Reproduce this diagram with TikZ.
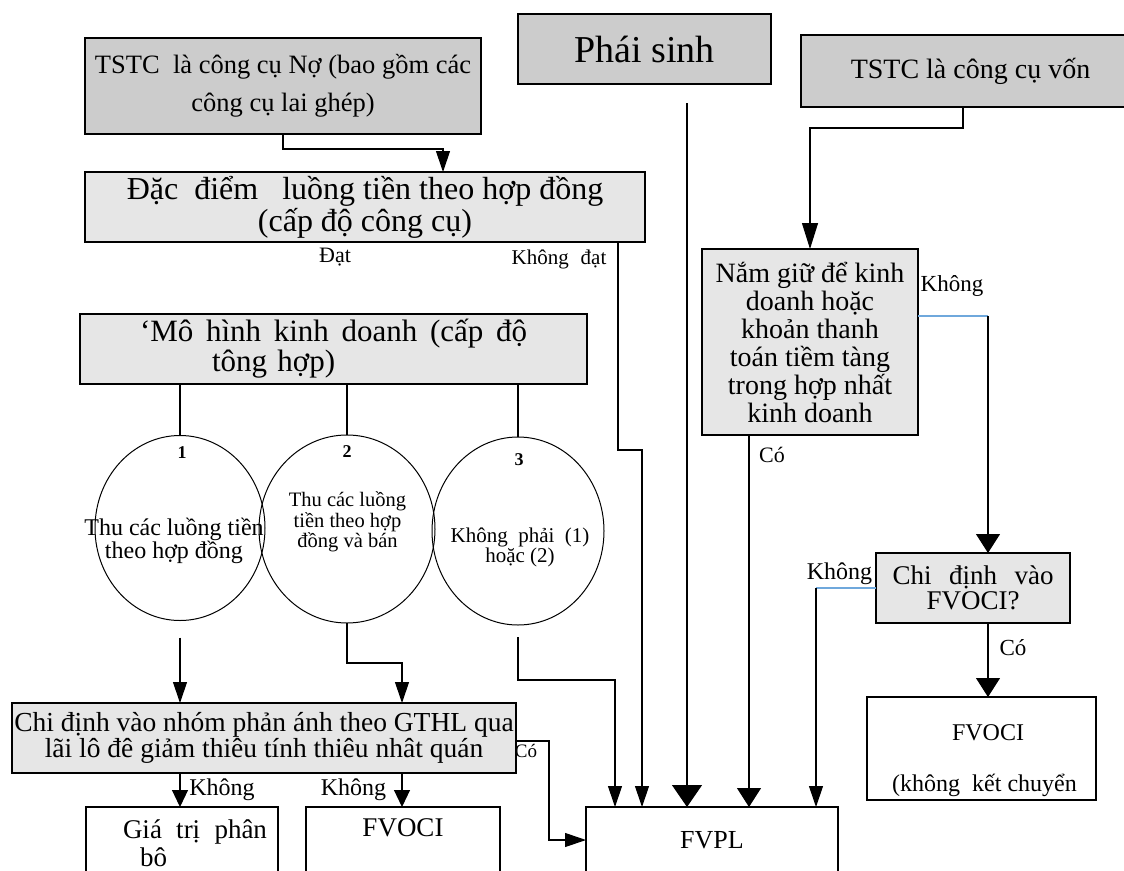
\documentclass[tikz,border=0pt]{standalone}
\usepackage{fontspec}
\setmainfont{Liberation Serif}
\usetikzlibrary{arrows.meta,shapes.geometric}
\definecolor{boxdark}{HTML}{CCCCCC}
\definecolor{boxlight}{HTML}{E6E6E6}
\definecolor{linkblue}{HTML}{6FA8DC}
\newcommand{\fsz}[2]{\fontsize{#1}{#2}\selectfont}

\begin{document}
\begin{tikzpicture}[x=1pt, y=-1pt,
    every node/.style={inner sep=0pt, outer sep=0pt},
    darkbox/.style={draw, line width=1.3pt, fill=boxdark, align=center},
    lightbox/.style={draw, line width=1.3pt, fill=boxlight, align=center},
    whitebox/.style={draw, line width=1.3pt, fill=white},
    model/.style={draw, ellipse, line width=1pt},
    wire/.style={line width=1.1pt},
    blueline/.style={line width=1.1pt, draw=linkblue},
    conn/.style={wire, -{Triangle[length=21pt, width=14pt]}},
    shortconn/.style={wire, -{Triangle[length=17pt, width=16pt]}},
    longconn/.style={wire, -{Triangle[length=26pt, width=16pt]}},
    wideconn/.style={wire, -{Triangle[length=19pt, width=24pt]}},
    bigconn/.style={wire, -{Triangle[length=22pt, width=30pt]}}]
    \fill[white] (0,0) rectangle (1124,870);
    \useasboundingbox (0,0) rectangle (1124,870);
    \clip (0,0) rectangle (1124,870);

    \node (debt) at (283,86) [darkbox, minimum width=396pt, minimum height=96pt, font=\fsz{26.5}{38}] {TSTC\ \ là công cụ Nợ (bao gồm các\\công cụ lai ghép)};
    \node (cash) at (365,207) [lightbox, minimum width=560pt, minimum height=70pt, font=\fsz{32}{32}] {Đặc\hspace{16pt}điểm\hspace{24pt}luồng tiền theo hợp đồng\\(cấp độ công cụ)};
    \draw[conn] (debt.south) -- ++(0,15) -| ([xshift=78pt]cash.north);
    \node (pass) at (335,257) [font=\fsz{22}{22}] {Đạt};
    \node (fail) at (559,259) [font=\fsz{21}{21}] {Không\hspace{12pt}đạt};

    \node (deriv) at (644.5,49) [darkbox, minimum width=253pt, minimum height=70pt, font=\fsz{38}{38}] {Phái sinh};
    \coordinate (derivtail) at (687,103);

    \node (equity) at (970.5,71) [darkbox, minimum width=339pt, minimum height=72pt, font=\fsz{28}{28}] {TSTC là công cụ vốn};
    \node (hold) at (810,342) [lightbox, minimum width=216pt, minimum height=186pt, font=\fsz{28}{28}] {Nắm giữ để kinh\\doanh hoặc\\khoản thanh\\toán tiềm tàng\\trong hợp nhất\\kinh doanh};
    \draw[longconn] ([xshift=-7.5pt]equity.south) -- ++(0,21) -| (hold.north);
    \node (holdno) at (952,286) [font=\fsz{23}{23}] {Không};
    \node (holdyes) at (772,455) [font=\fsz{22}{22}] {Có};

    \node (model) at (333.5,349) [lightbox, minimum width=507pt, minimum height=70pt, font=\fsz{31}{30}, text width=387pt, align=left] {\hbox to 387pt{‘Mô\hfill hình\hfill kinh\hfill doanh\hfill (cấp\hfill độ}\\\hspace*{72pt}tông hợp)};

    \node (c1) at (180,528) [model, minimum width=170pt, minimum height=185pt] {};
    \node (c2) at (347,529) [model, minimum width=176pt, minimum height=188pt] {};
    \node (c3) at (518,531) [model, minimum width=172pt, minimum height=188pt] {};
    \draw[wire] (model.south -| c1.north) -- (c1.north);
    \draw[wire] (model.south -| c2.north) -- (c2.north);
    \draw[wire] (model.south -| c3.north) -- (c3.north);
    \node (n1) at (182,453) [font=\bfseries\fsz{18}{18}] {1};
    \node (n2) at (347,452) [font=\bfseries\fsz{18}{18}] {2};
    \node (n3) at (519,460) [font=\bfseries\fsz{18}{18}] {3};
    \node (c1txt) at (174,541) [align=center, font=\fsz{24}{23}] {Thu các luồng tiền\\theo hợp đồng};
    \node (c2txt) at (347.5,522) [align=center, font=\fsz{20.5}{20.5}] {Thu các luồng\\tiền theo hợp\\đồng và bán};
    \node (c3txt) at (520,547) [align=center, font=\fsz{21}{20}] {Không\ \ phải\ \ (1)\\hoặc (2)};

    \node (desig) at (264,738) [lightbox, minimum width=504pt, minimum height=70pt, font=\fsz{27.5}{26}] {Chi định vào nhóm phản ánh theo GTHL qua\\lãi lô đê giảm thiêu tính thiêu nhât quán};
    \draw[conn] ([yshift=-17pt]c1.south) -- (c1.south |- desig.north);
    \draw[conn] (c2.south) -- ++(0,40) -| ([xshift=138pt]desig.north);

    \node (fvpl) at (712,840) [whitebox, minimum width=252pt, minimum height=66pt, font=\fsz{26}{26}] {FVPL};
    \draw[conn] ([yshift=-12pt]c3.south) -- ++(0,43) -| ([xshift=-97pt]fvpl.north);
    \draw[conn] ([xshift=253pt]cash.south) -- ++(0,208) -| ([xshift=-70pt]fvpl.north);
    \draw[bigconn] (derivtail) -- (derivtail |- fvpl.north);
    \coordinate (holdtail) at ([xshift=-61pt]hold.south);
    \draw[wideconn] (holdtail) -- (holdtail |- fvpl.north);
    \draw[conn] ([yshift=-3pt]desig.east) -- ++(33,0) |- (fvpl.west);
    \node (desigyes) at (526,751) [font=\fsz{19}{19}] {Có};

    \node (desigoci) at (973,588) [lightbox, minimum width=194pt, minimum height=70pt, font=\fsz{27}{25}] {\hbox to 161pt{Chi\hfill định\hfill vào}\\FVOCI?};
    \coordinate (holdexit) at ([yshift=26pt]hold.east);
    \coordinate (holdturn) at ([xshift=70pt]holdexit);
    \draw[blueline] (holdexit) -- (holdturn);
    \draw[wideconn] (holdturn) -- (holdturn |- desigoci.north);
    \coordinate (ociturn) at ([xshift=-60pt]desigoci.west);
    \draw[blueline] (desigoci.west) -- (ociturn);
    \draw[conn] (ociturn) -- (ociturn |- fvpl.north);
    \node (ocino) at (839.5,574) [font=\fsz{24}{24}] {Không};

    \node (ocibox) at (981.5,748.5) [whitebox, minimum width=229pt, minimum height=103pt] {};
    \node (ocitxt) at (988,733) [font=\fsz{24}{24}] {FVOCI};
    \node (ocinote) at (984.5,785) [font=\fsz{24}{24}] {(không\hspace{12pt}kết chuyển};
    \coordinate (ocidrop) at ([xshift=15pt]desigoci.south);
    \draw[wideconn] (ocidrop) -- (ocidrop |- ocibox.north);
    \node (ociyes) at (1013,648) [font=\fsz{23}{23}] {Có};

    \node (amort) at (182,843) [whitebox, minimum width=192pt, minimum height=72pt, text width=155pt, align=left, font=\fsz{27}{28}] {\hspace*{18.5pt}\hbox to 144pt{Giá\hfill trị\hfill phân}\\\hspace*{35.5pt}bô};
    \node (ocileft) at (403,807) [whitebox, anchor=north, minimum width=194pt, text height=29pt, text depth=60pt, font=\fsz{27}{27}] {FVOCI};
    \coordinate (amortdrop) at ([xshift=-84pt]desig.south);
    \draw[shortconn] (amortdrop) -- (amortdrop |- amort.north);
    \coordinate (ocileftdrop) at ([xshift=138pt]desig.south);
    \draw[shortconn] (ocileftdrop) -- (ocileftdrop |- ocileft.north);
    \node (amortno) at (222,790) [font=\fsz{24}{24}] {Không};
    \node (ocileftno) at (353.5,790) [font=\fsz{24}{24}] {Không};
\end{tikzpicture}
\end{document}
